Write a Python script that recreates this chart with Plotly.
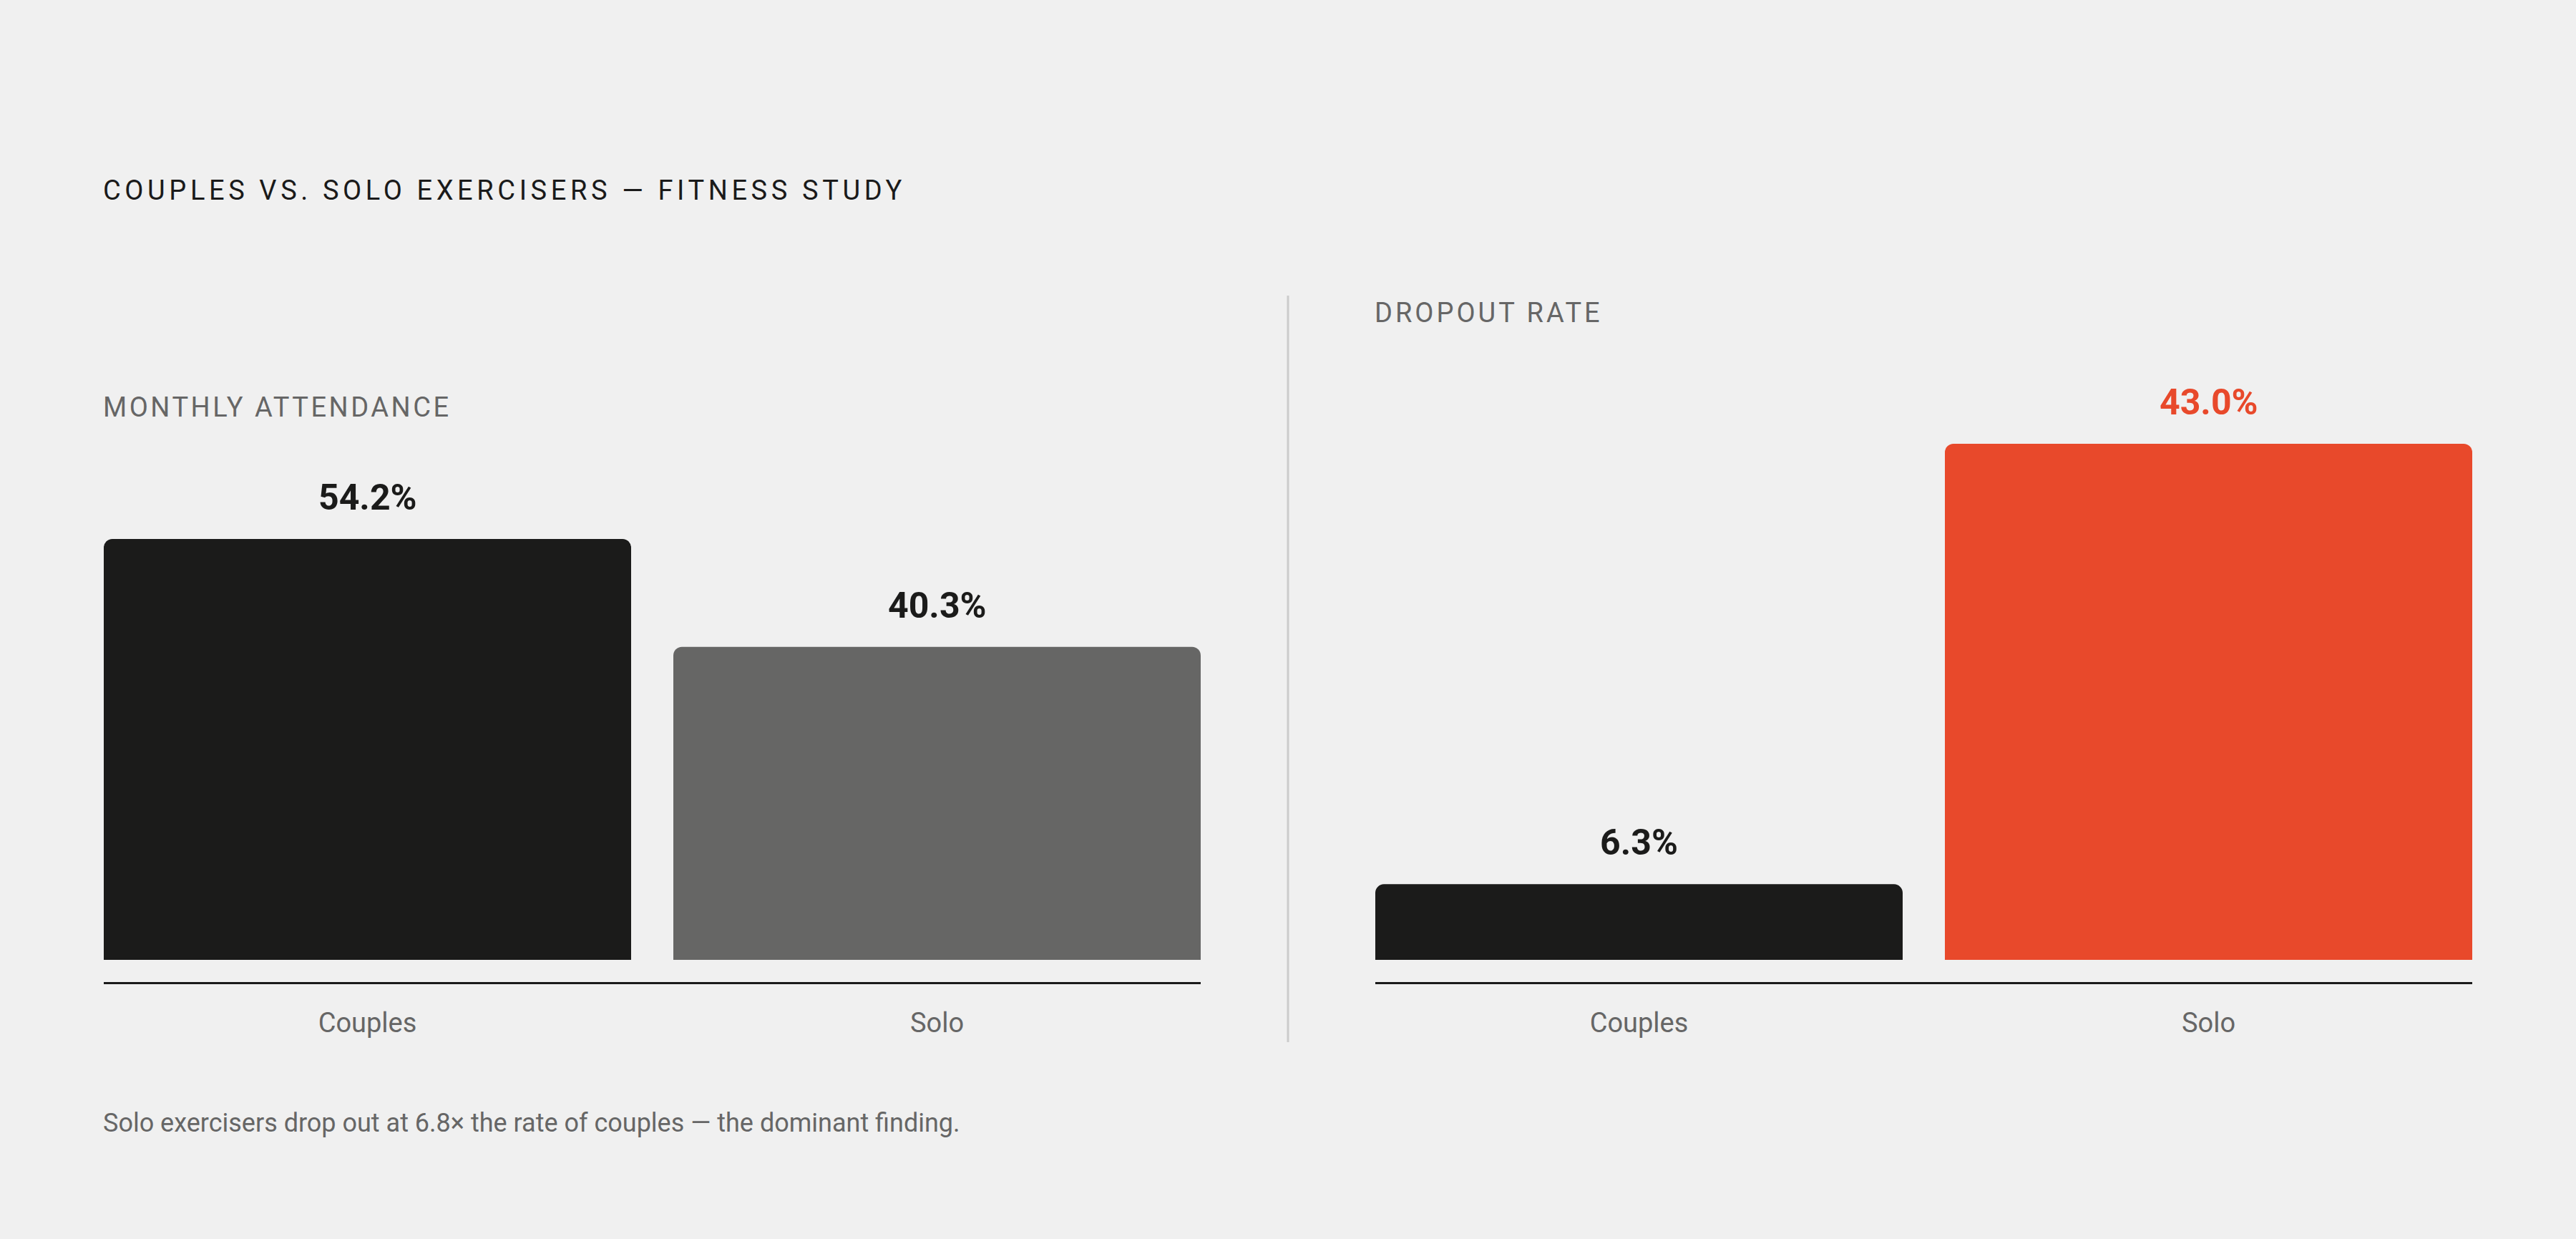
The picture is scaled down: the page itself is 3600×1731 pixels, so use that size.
import plotly.graph_objects as go

# ---- data ----
categories = ["Couples", "Solo"]
attendance = [54.2, 40.3]
dropout = [6.3, 43.0]

title_text = "COUPLES VS. SOLO EXERCISERS — FITNESS STUDY"
left_label = "MONTHLY ATTENDANCE"
right_label = "DROPOUT RATE"
footer_text = "Solo exercisers drop out at 6.8× the rate of couples — the dominant finding."

# ---- styles ----
BG = "#f0f0f0"
DARK = "#1b1b1a"
GREY_BAR = "#666665"
RED = "#e8492b"
MUTED = "#666666"
FONT = "Roboto"

W, H = 3600, 1731


def px_x(p):
    return p / W


def px_y(p):
    return 1 - p / H


def spaced(text, spacing):
    return f'<span style="letter-spacing:{spacing}px">{text}</span>'


att_colors = [DARK, GREY_BAR]
drop_colors = [DARK, RED]
att_label_colors = [DARK, DARK]
drop_label_colors = [DARK, RED]

fig = go.Figure()

fig.add_trace(go.Bar(
    x=categories, y=attendance, xaxis="x", yaxis="y",
    marker=dict(color=att_colors, cornerradius=12, line=dict(width=0)),
    hoverinfo="skip", showlegend=False,
))
fig.add_trace(go.Bar(
    x=categories, y=dropout, xaxis="x2", yaxis="y2",
    marker=dict(color=drop_colors, cornerradius=12, line=dict(width=0)),
    hoverinfo="skip", showlegend=False,
))

# plot area geometry (pixels)
base_px = 1341      # y pixel of value 0
axis_px = 1372      # y pixel of baseline rule
top_px = 600        # y pixel of plot-area top
left_scale = (1341 - 753) / 54.2   # px per unit, left panel
right_scale = (1341 - 620) / 43.0  # px per unit, right panel

bar_frac = 737 / 796
xr = [-bar_frac / 2, 1 + bar_frac / 2]

ydom = [px_y(axis_px), px_y(top_px)]

common_x = dict(
    type="category", range=xr, showgrid=False, zeroline=False,
    showline=True, linecolor="#1a1a1a", linewidth=3,
    ticks="", tickfont=dict(family=FONT, size=38, color=MUTED),
    ticklabelstandoff=21, fixedrange=True,
)
common_y = dict(
    showgrid=False, zeroline=False, showline=False, showticklabels=False,
    ticks="", fixedrange=True, domain=ydom,
)

fig.update_layout(
    width=W, height=H, autosize=False,
    margin=dict(l=0, r=0, t=0, b=0),
    paper_bgcolor=BG, plot_bgcolor=BG,
    bargap=1 - bar_frac,
    xaxis=dict(domain=[px_x(145), px_x(1678)], anchor="y", **common_x),
    xaxis2=dict(domain=[px_x(1922), px_x(3455)], anchor="y2", **common_x),
    yaxis=dict(anchor="x",
               range=[-(axis_px - base_px) / left_scale, (base_px - top_px) / left_scale],
               **common_y),
    yaxis2=dict(anchor="x2",
                range=[-(axis_px - base_px) / right_scale, (base_px - top_px) / right_scale],
                **common_y),
    font=dict(family=FONT),
)

annotations = []
# value labels above bars
for c, v, col in zip(categories, attendance, att_label_colors):
    annotations.append(dict(
        x=c, y=v, xref="x", yref="y", text=f"{v:.1f}%", showarrow=False,
        xanchor="center", yanchor="middle", yshift=58,
        font=dict(family=FONT, size=50, color=col, weight="bold"),
    ))
for c, v, col in zip(categories, dropout, drop_label_colors):
    annotations.append(dict(
        x=c, y=v, xref="x2", yref="y2", text=f"{v:.1f}%", showarrow=False,
        xanchor="center", yanchor="middle", yshift=58,
        font=dict(family=FONT, size=50, color=col, weight="bold"),
    ))

# titles and notes
annotations += [
    dict(x=px_x(142), y=px_y(266), xref="paper", yref="paper",
         text=spaced(title_text, 5.6),
         showarrow=False, xanchor="left", yanchor="middle",
         font=dict(family=FONT, size=38, color="#1a1a1a")),
    dict(x=px_x(142), y=px_y(569), xref="paper", yref="paper",
         text=spaced(left_label, 3.5),
         showarrow=False, xanchor="left", yanchor="middle",
         font=dict(family=FONT, size=38, color=MUTED)),
    dict(x=px_x(1919), y=px_y(437), xref="paper", yref="paper",
         text=spaced(right_label, 4.0),
         showarrow=False, xanchor="left", yanchor="middle",
         font=dict(family=FONT, size=38, color=MUTED)),
    dict(x=px_x(142), y=px_y(1569), xref="paper", yref="paper", text=footer_text,
         showarrow=False, xanchor="left", yanchor="middle",
         font=dict(family=FONT, size=36, color=MUTED)),
]

fig.update_layout(
    annotations=annotations,
    shapes=[dict(type="line", xref="paper", yref="paper",
                 x0=px_x(1800), x1=px_x(1800), y0=px_y(413), y1=px_y(1456),
                 line=dict(color="#cccccc", width=3))],
)

fig.write_html(
    "out.html",
    config={"displayModeBar": False, "staticPlot": True},
    post_script=(
        "document.body.style.margin='0';"
        "document.body.style.padding='0';"
        "document.body.style.background='#f0f0f0';"
        "document.documentElement.style.overflow='hidden';"
    ),
)
